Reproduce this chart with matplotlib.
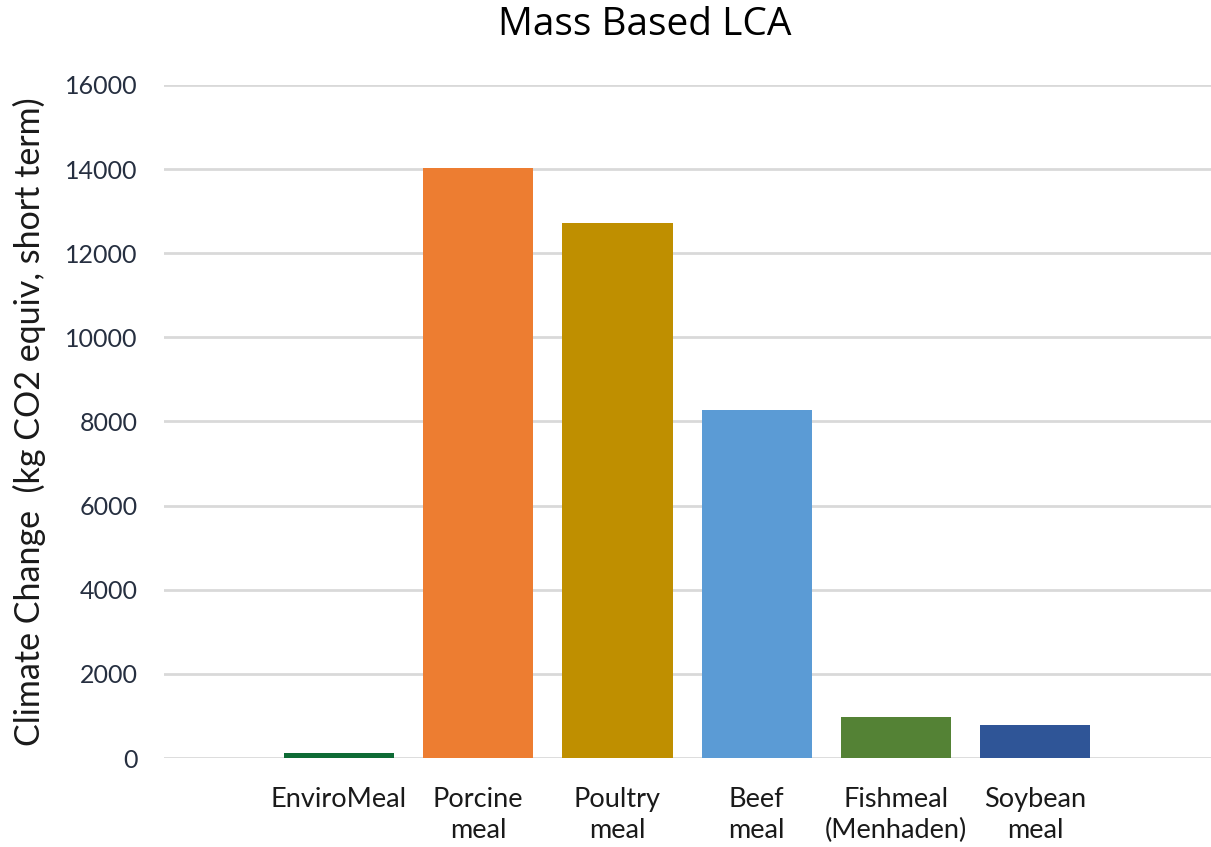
import matplotlib as mpl
mpl.use('Agg')
import matplotlib.pyplot as plt

# dati
categorie = ['EnviroMeal', 'Porcine\nmeal', 'Poultry\nmeal', 'Beef\nmeal', 'Fishmeal\n(Menhaden)', 'Soybean\nmeal']
valori = [125, 14030, 12720, 8275, 985, 790]
colori = ['#0e6b35', '#ed7d31', '#bf8f00', '#5b9bd5', '#548235', '#2f5597']
yticks = [0, 2000, 4000, 6000, 8000, 10000, 12000, 14000, 16000]

plt.rcParams['font.family'] = ['Lato', 'DejaVu Sans']

fig = plt.figure(figsize=(12.11, 8.47), dpi=100)
ax = fig.add_axes([164 / 1211, 1 - 758 / 847, 1 - 164 / 1211, (758 - 85) / 847])

x = list(range(len(categorie)))
ax.bar(x, valori, width=0.79, color=colori, zorder=3)

ax.set_xlim(-1.255, 6.26)
ax.set_ylim(0, 16000)
ax.set_yticks(yticks)
ax.set_yticklabels([str(v) for v in yticks], fontsize=18, color='#262f40')
ax.set_xticks(x)
ax.set_xticklabels(categorie, fontsize=19.5, color='#1a1a1a', linespacing=1.3)
ax.tick_params(axis='y', length=0, pad=19)
ax.tick_params(axis='x', length=0, pad=21)

ax.grid(axis='y', color='#d9d9d9', linewidth=2, zorder=0)
for s in ax.spines.values():
    s.set_visible(False)

ax.set_ylabel('Climate Change  (kg CO2 equiv, short term)', fontsize=24.5, color='#1a1a1a', labelpad=14)
fig.text(0.5325, 0.97, 'Mass Based LCA', fontsize=28, ha='center', va='center', family='Open Sans')

fig.savefig('out.png', dpi=100)
